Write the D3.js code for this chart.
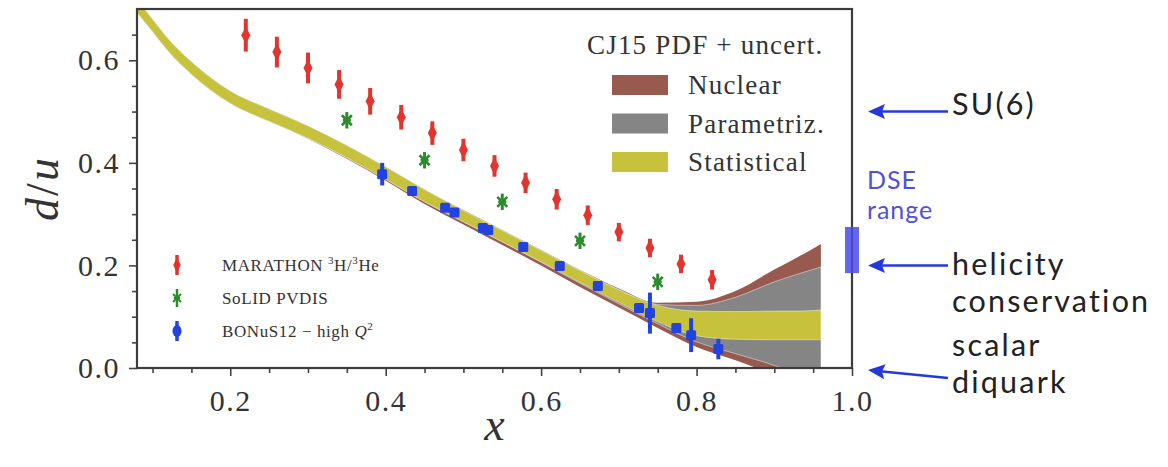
<!DOCTYPE html>
<html>
<head>
<meta charset="utf-8">
<script src="https://cdn.jsdelivr.net/npm/d3@7"></script>
<style>
  body { margin: 0; background: #fff; }
  svg text { font-family: "Liberation Serif", serif; fill: #333; }
  svg text.ann { font-family: Lato, "Open Sans", sans-serif; fill: #222; }
</style>
</head>
<body>
<div id="chart"></div>
<script>
// CJ15 d/u bands
const gridX  = [0.08, 0.10, 0.12, 0.15, 0.20, 0.25, 0.30, 0.35, 0.40, 0.45, 0.50, 0.55, 0.60, 0.65, 0.70, 0.75, 0.80, 0.85, 0.90, 0.93, 0.96];
const statHi = [0.717, 0.680, 0.642, 0.597, 0.540, 0.505, 0.472, 0.434, 0.392, 0.348, 0.307, 0.268, 0.229, 0.190, 0.152, 0.122, 0.111, 0.110, 0.111, 0.111, 0.113];
const statLo = [0.693, 0.656, 0.618, 0.573, 0.516, 0.481, 0.448, 0.410, 0.368, 0.324, 0.285, 0.246, 0.207, 0.167, 0.128, 0.090, 0.063, 0.056, 0.055, 0.055, 0.055];
const parHi  = [0.717, 0.680, 0.642, 0.597, 0.540, 0.505, 0.472, 0.434, 0.392, 0.348, 0.307, 0.268, 0.229, 0.190, 0.153, 0.124, 0.122, 0.138, 0.168, 0.183, 0.197];
const parLo  = [0.693, 0.656, 0.618, 0.573, 0.516, 0.481, 0.448, 0.410, 0.368, 0.324, 0.285, 0.246, 0.206, 0.165, 0.125, 0.086, 0.051, 0.028, 0.005, -0.012, -0.030];
const nucHi  = [0.717, 0.680, 0.642, 0.597, 0.540, 0.505, 0.472, 0.434, 0.392, 0.348, 0.308, 0.269, 0.230, 0.191, 0.155, 0.127, 0.129, 0.150, 0.192, 0.216, 0.242];
const nucLo  = [0.693, 0.656, 0.618, 0.573, 0.516, 0.481, 0.447, 0.408, 0.365, 0.320, 0.280, 0.240, 0.200, 0.158, 0.118, 0.078, 0.041, 0.015, -0.015, -0.040, -0.070];

// MARATHON 3H/3He projected points
const marX   = [0.22, 0.26, 0.30, 0.34, 0.38, 0.42, 0.46, 0.50, 0.54, 0.58, 0.62, 0.66, 0.70, 0.74, 0.78, 0.82];
const marY   = [0.649, 0.616, 0.585, 0.553, 0.520, 0.489, 0.458, 0.425, 0.394, 0.361, 0.329, 0.298, 0.265, 0.234, 0.203, 0.172];
const marErr = [0.032, 0.030, 0.030, 0.028, 0.026, 0.024, 0.023, 0.022, 0.021, 0.020, 0.020, 0.019, 0.018, 0.018, 0.018, 0.019];

// SoLID PVDIS
const solX   = [0.35, 0.45, 0.55, 0.65, 0.75];
const solY   = [0.483, 0.405, 0.324, 0.248, 0.168];
const solErr = [0.016, 0.016, 0.016, 0.016, 0.016];

// BONuS12 - high Q^2
const bonX   = [0.3955, 0.434, 0.4765, 0.4885, 0.525, 0.532, 0.577, 0.624, 0.673, 0.726, 0.740, 0.774, 0.793, 0.828];
const bonY   = [0.378, 0.345, 0.3125, 0.303, 0.273, 0.269, 0.236, 0.199, 0.160, 0.117, 0.107, 0.078, 0.064, 0.037];
const bonErr = [0.022, 0.004, 0.004, 0.004, 0.004, 0.004, 0.004, 0.004, 0.004, 0.004, 0.040, 0.004, 0.033, 0.020];

const xMajor = [0.2, 0.4, 0.6, 0.8, 1.0];
const xMinor = [0.1, 0.15, 0.25, 0.3, 0.35, 0.45, 0.5, 0.55, 0.65, 0.7, 0.75, 0.85, 0.9, 0.95];
const yMajor = [0.0, 0.2, 0.4, 0.6];
const yMinor = [0.05, 0.1, 0.15, 0.25, 0.3, 0.35, 0.45, 0.5, 0.55, 0.65];

const bandNames  = ["Nuclear", "Parametriz.", "Statistical"];
const bandColors = ["#985a4f", "#858585", "#c6c23c"];

// limits shown on the right side
const limits = [
  { value: 0.5, lines: ["SU(6)"] },
  { value: 0.2, lines: ["helicity", "conservation"] },
  { value: 0.0, lines: ["scalar", "diquark"] }
];
const dseRange = [0.185, 0.275];

const W = 1168, H = 467;
const margin = { top: 9, right: 316, bottom: 99, left: 137 };
const width = W - margin.left - margin.right,
      height = H - margin.top - margin.bottom;

const svg = d3.select("#chart").append("svg")
    .attr("width", W)
    .attr("height", H);

const x = d3.scaleLinear().domain([0.08, 1.0]).range([margin.left, margin.left + width]);
const y = d3.scaleLinear().domain([0, 0.70]).range([margin.top + height, margin.top]);

svg.append("clipPath").attr("id", "plotclip")
  .append("rect")
    .attr("x", x(0.08)).attr("y", y(0.70))
    .attr("width", width).attr("height", height);

const plot = svg.append("g").attr("clip-path", "url(#plotclip)");

// bands, outermost first
const bands = [[nucLo, nucHi], [parLo, parHi], [statLo, statHi]];
bands.forEach(([lo, hi], k) => {
  const area = d3.area()
      .curve(d3.curveMonotoneX)
      .x((d, i) => x(gridX[i]))
      .y0((d, i) => y(lo[i]))
      .y1((d, i) => y(hi[i]));
  plot.append("path")
      .datum(gridX)
      .attr("d", area)
      .attr("fill", bandColors[k])
      .attr("stroke", "#fff")
      .attr("stroke-opacity", k === 0 ? 0 : 0.45)
      .attr("stroke-width", 1);
});

// marker shapes
const diamond = "M0,-9L4.5,0L0,9L-4.5,0Z";
const star = "M-5,-5L5,5M5,-5L-5,5M-4,0L4,0";

function errBars(g, xs, ys, es, color, w) {
  g.selectAll(null).data(xs).join("line")
      .attr("x1", d => x(d)).attr("x2", d => x(d))
      .attr("y1", (d, i) => y(ys[i] - es[i]))
      .attr("y2", (d, i) => y(ys[i] + es[i]))
      .attr("stroke", color).attr("stroke-width", w);
}

// MARATHON
const gMar = plot.append("g");
errBars(gMar, marX, marY, marErr, "#e2352f", 4);
gMar.selectAll(null).data(marX).join("path")
    .attr("d", diamond)
    .attr("transform", (d, i) => `translate(${x(d)},${y(marY[i])})`)
    .attr("fill", "#e2352f");

// SoLID
const gSol = plot.append("g");
errBars(gSol, solX, solY, solErr, "#2b8c2b", 3);
gSol.selectAll(null).data(solX).join("path")
    .attr("d", star)
    .attr("transform", (d, i) => `translate(${x(d)},${y(solY[i])})`)
    .attr("stroke", "#2b8c2b").attr("stroke-width", 2.6).attr("fill", "none");

// BONuS12
const gBon = plot.append("g");
errBars(gBon, bonX, bonY, bonErr, "#2343e0", 4);
gBon.selectAll(null).data(bonX).join("rect")
    .attr("x", d => x(d) - 5)
    .attr("y", (d, i) => y(bonY[i]) - 5)
    .attr("width", 10).attr("height", 10)
    .attr("rx", 1.5)
    .attr("fill", "#2343e0");

// axes
const axisX = d3.axisBottom(x).tickValues(xMajor).tickFormat(d3.format(".1f")).tickSize(8).tickPadding(14);
const axisXm = d3.axisBottom(x).tickValues(xMinor).tickFormat("").tickSize(5);
const axisY = d3.axisLeft(y).tickValues(yMajor).tickFormat(d3.format(".1f")).tickSize(8).tickPadding(9);
const axisYm = d3.axisLeft(y).tickValues(yMinor).tickFormat("").tickSize(5);

const styleAxis = g => g
    .call(g => g.select(".domain").remove())
    .call(g => g.selectAll(".tick line").attr("stroke", "#444").attr("stroke-width", 1.6))
    .call(g => g.selectAll(".tick text")
        .attr("font-family", "Liberation Serif, serif")
        .attr("font-size", 30)
        .attr("letter-spacing", 1.5)
        .attr("fill", "#3a3a3a"));

svg.append("g").attr("transform", `translate(0,${y(0)})`).call(axisX).call(styleAxis);
svg.append("g").attr("transform", `translate(0,${y(0)})`).call(axisXm).call(styleAxis);
svg.append("g").attr("transform", `translate(${x(0.08)},0)`).call(axisY).call(styleAxis);
svg.append("g").attr("transform", `translate(${x(0.08)},0)`).call(axisYm).call(styleAxis);

// frame
svg.append("rect")
    .attr("x", x(0.08)).attr("y", y(0.70))
    .attr("width", width).attr("height", height)
    .attr("fill", "none")
    .attr("stroke", "#3c3c3c")
    .attr("stroke-width", 2.2);

// axis titles
svg.append("text")
    .attr("x", x(0.08) + width / 2).attr("y", 440)
    .attr("text-anchor", "middle")
    .attr("font-style", "italic")
    .attr("font-size", 46)
    .text("x");

svg.append("text")
    .attr("transform", `translate(58,${y(0.35)}) rotate(-90)`)
    .attr("text-anchor", "middle")
    .attr("font-size", 46)
    .attr("letter-spacing", 2)
    .call(t => {
      t.append("tspan").attr("font-style", "italic").text("d");
      t.append("tspan").text("/");
      t.append("tspan").attr("font-style", "italic").text("u");
    });

// band legend (top right)
const lg = svg.append("g");
lg.append("text")
    .attr("x", 587).attr("y", 54)
    .attr("font-size", 27)
    .attr("letter-spacing", 1.2)
    .text("CJ15 PDF + uncert.");
bandNames.forEach((name, k) => {
  const cy = 85 + k * 38.5;
  lg.append("rect")
      .attr("x", 612).attr("y", cy - 10)
      .attr("width", 56).attr("height", 20)
      .attr("fill", bandColors[k]);
  lg.append("text")
      .attr("x", 688).attr("y", cy + 9)
      .attr("font-size", 27)
      .attr("letter-spacing", 1.2)
      .text(name);
});

// data legend (bottom left)
const dl = svg.append("g");
const rowY = [265, 298, 331];
// MARATHON
dl.append("line").attr("x1", 177).attr("x2", 177).attr("y1", rowY[0] - 10).attr("y2", rowY[0] + 10)
    .attr("stroke", "#e2352f").attr("stroke-width", 3.5);
dl.append("path").attr("d", diamond).attr("transform", `translate(177,${rowY[0]}) scale(0.85)`).attr("fill", "#e2352f");
// SoLID
dl.append("line").attr("x1", 177).attr("x2", 177).attr("y1", rowY[1] - 9).attr("y2", rowY[1] + 9)
    .attr("stroke", "#2b8c2b").attr("stroke-width", 2.5);
dl.append("path").attr("d", star).attr("transform", `translate(177,${rowY[1]}) scale(0.8)`)
    .attr("stroke", "#2b8c2b").attr("stroke-width", 2.4).attr("fill", "none");
// BONuS
dl.append("line").attr("x1", 177).attr("x2", 177).attr("y1", rowY[2] - 10).attr("y2", rowY[2] + 10)
    .attr("stroke", "#2343e0").attr("stroke-width", 3.5);
dl.append("ellipse").attr("cx", 177).attr("cy", rowY[2]).attr("rx", 4.5).attr("ry", 6).attr("fill", "#2343e0");

const legText = (i) => dl.append("text")
    .attr("x", 222).attr("y", rowY[i] + 6)
    .attr("font-size", 17)
    .attr("letter-spacing", 0.6);
legText(0).call(t => {
  t.append("tspan").text("MARATHON ");
  t.append("tspan").attr("font-size", 11).attr("dy", -7).text("3");
  t.append("tspan").attr("dy", 7).text("H/");
  t.append("tspan").attr("font-size", 11).attr("dy", -7).text("3");
  t.append("tspan").attr("dy", 7).text("He");
});
legText(1).text("SoLID PVDIS");
legText(2).call(t => {
  t.append("tspan").text("BONuS12 \u2212 high ");
  t.append("tspan").attr("font-style", "italic").text("Q");
  t.append("tspan").attr("font-size", 11).attr("dy", -7).text("2");
});

// right-hand annotations
const blue = "#2438dc";
const tipX = x(1.0) + 16, tailX = x(1.0) + 96, textX = x(1.0) + 100;
limits.forEach((lim, k) => {
  const yy = y(lim.value) + (k === 2 ? 2 : 0);
  const tailY = k === 2 ? yy + 8 : yy;
  const ang = Math.atan2(tailY - yy, tailX - tipX);
  const g = svg.append("g")
      .attr("transform", `translate(${tipX},${yy}) rotate(${ang * 180 / Math.PI})`);
  const len = Math.hypot(tailX - tipX, tailY - yy);
  g.append("line")
      .attr("x1", 12).attr("y1", 0).attr("x2", len).attr("y2", 0)
      .attr("stroke", blue).attr("stroke-width", 2.6);
  g.append("path")
      .attr("d", "M0,0L17,-7.5L14,0L17,7.5Z")
      .attr("fill", blue);
  const base = k === 0 ? y(lim.value) + 3 : (k === 1 ? y(lim.value) + 10 : y(lim.value) - 12);
  lim.lines.forEach((ln, j) => {
    svg.append("text").attr("class", "ann")
        .attr("x", textX).attr("y", base + j * 37)
        .attr("font-size", 30.5)
        .attr("letter-spacing", 2.2)
        .text(ln);
  });
});

// DSE range bar on the right axis
svg.append("rect")
    .attr("x", x(1.0) - 7).attr("y", y(dseRange[1]))
    .attr("width", 14).attr("height", y(dseRange[0]) - y(dseRange[1]))
    .attr("fill", "#4a4ae6").attr("fill-opacity", 0.85);
["DSE", "range"].forEach((t, j) => {
  svg.append("text").attr("class", "ann")
      .attr("x", x(1.0) + 15).attr("y", 189 + j * 30)
      .attr("font-size", 25)
      .attr("letter-spacing", 1)
      .style("fill", "#5050e0")
      .text(t);
});
</script>
</body>
</html>
